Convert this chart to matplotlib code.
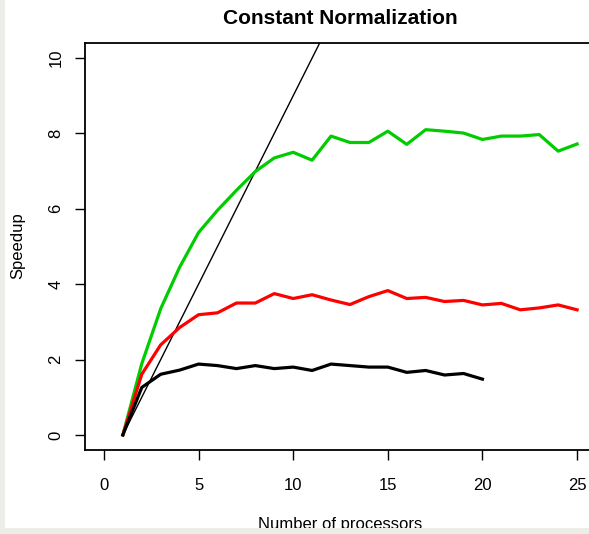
import matplotlib
matplotlib.use("Agg")
import matplotlib.pyplot as plt
from matplotlib.patches import Rectangle

plt.rcParams['font.family'] = ['Liberation Sans', 'DejaVu Sans']

# speedup per processor count
procs_long = list(range(1, 26))
procs_short = list(range(1, 21))

speedup_green = [0.0, 1.89, 3.35, 4.45, 5.37, 5.96, 6.49, 6.99, 7.35, 7.50,
                 7.29, 7.93, 7.76, 7.76, 8.06, 7.71, 8.10, 8.06, 8.01, 7.84,
                 7.93, 7.93, 7.97, 7.53, 7.72]
speedup_red = [0.0, 1.61, 2.39, 2.85, 3.19, 3.24, 3.50, 3.50, 3.75, 3.62,
               3.72, 3.58, 3.46, 3.67, 3.83, 3.62, 3.65, 3.54, 3.57, 3.45,
               3.49, 3.32, 3.37, 3.45, 3.32]
speedup_black = [0.0, 1.26, 1.61, 1.72, 1.88, 1.84, 1.76, 1.84, 1.76, 1.80,
                 1.71, 1.88, 1.84, 1.80, 1.80, 1.66, 1.71, 1.59, 1.63, 1.48]

# reference line: speedup = processors - 1
ideal_x = [1, 26]
ideal_y = [0, 25]

x_ticks = [0, 5, 10, 15, 20, 25]
y_ticks = [0, 2, 4, 6, 8, 10]

W, H = 589, 534
fig = plt.figure(figsize=(W / 100, H / 100), dpi=100)
fig.patch.set_facecolor('white')

# plot region runs past the right edge of the canvas
left, right, top, bottom = 85, 596, 43, 450
ax = fig.add_axes([left / W, 1 - bottom / H, (right - left) / W, (bottom - top) / H])

ax.plot(ideal_x, ideal_y, color='black', lw=1.0)
ax.plot(procs_long, speedup_green, color='#00cc00', lw=2.3, solid_joinstyle='round')
ax.plot(procs_long, speedup_red, color='#ff0000', lw=2.3, solid_joinstyle='round')
ax.plot(procs_short, speedup_black, color='black', lw=2.3, solid_joinstyle='round')

ax.set_xlim(-1, 26)
ax.set_ylim(-0.4, 10.4)
ax.set_xticks(x_ticks)
ax.set_yticks(y_ticks)
ax.tick_params(axis='both', direction='out', length=7.5, width=1.0, labelsize=12)
ax.tick_params(axis='x', pad=13)
ax.tick_params(axis='y', pad=8, labelrotation=90)
for lab in ax.get_yticklabels():
    lab.set_va('center')
for side in ['left', 'bottom', 'top', 'right']:
    ax.spines[side].set_linewidth(1.3)

fig.text((left + right) / 2 / W, 1 - 19 / H, 'Constant Normalization',
         ha='center', va='center', fontsize=15, fontweight='bold')
fig.text((left + right) / 2 / W, 1 - 517 / H, 'Number of processors',
         ha='center', va='top', fontsize=12)
fig.text(18 / W, 1 - 246 / H, 'Speedup', rotation=90,
         ha='center', va='center', fontsize=12)

# window frame strips on the left and bottom
fig.patches.append(Rectangle((0, 0), 5 / W, 1, transform=fig.transFigure,
                             facecolor='#ededE8', edgecolor='none', zorder=10))
fig.patches.append(Rectangle((0, 0), 1, 6 / H, transform=fig.transFigure,
                             facecolor='#ededE8', edgecolor='none', zorder=10))

fig.savefig('out.png', dpi=100)
